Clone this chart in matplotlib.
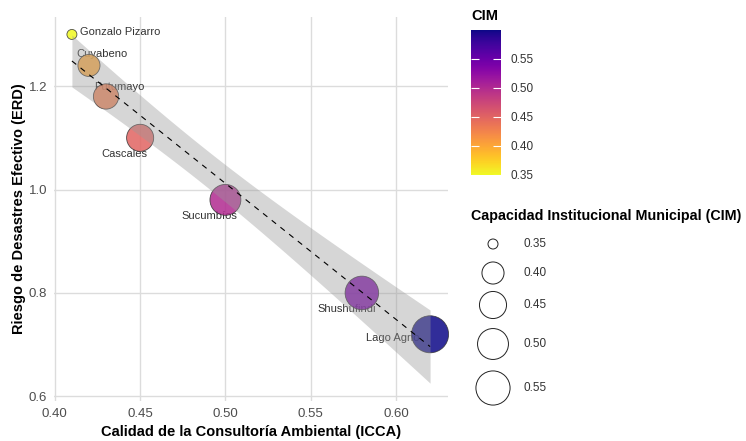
import numpy as np
import matplotlib
matplotlib.use("Agg")
import matplotlib.pyplot as plt
from matplotlib.colors import Normalize

plt.rcParams["font.family"] = ["Liberation Sans", "DejaVu Sans"]

# --- data ---
municipios = ["Gonzalo Pizarro", "Cuyabeno", "Putumayo", "Cascales",
              "Sucumbíos", "Shushufindi", "Lago Agrio"]
icca = [0.41, 0.42, 0.43, 0.45, 0.50, 0.58, 0.62]
erd = [1.30, 1.24, 1.18, 1.10, 0.98, 0.80, 0.72]
cim = [0.35, 0.40, 0.43, 0.45, 0.50, 0.54, 0.60]
cim_ticks = [0.35, 0.40, 0.45, 0.50, 0.55]

# label offsets in points (dx, dy, ha)
label_pos = [(6, 2, "left"), (9.5, 8, "center"), (9.5, 6.5, "center"),
             (-11, -12, "center"), (-11.5, -11.5, "center"),
             (-11, -11.5, "center"), (-27, -2.5, "center")]

x = np.array(icca)
y = np.array(erd)
c = np.array(cim)

# --- linear fit + 95% CI (like geom_smooth(method="lm")) ---
n = len(x)
slope, intercept = np.polyfit(x, y, 1)
xs = np.linspace(x.min(), x.max(), 100)
ys = intercept + slope * xs
resid = y - (intercept + slope * x)
s = np.sqrt(np.sum(resid ** 2) / (n - 2))
t975 = 2.5706  # t quantile, df = 5
se = s * np.sqrt(1 / n + (xs - x.mean()) ** 2 / np.sum((x - x.mean()) ** 2))
lo, hi = ys - t975 * se, ys + t975 * se

# --- size scale (area_pal style) ---
cmin, cmax = c.min(), c.max()
dmin, dmax = 10, 37  # px diameter


def size_of(v):
    d_px = dmin + (dmax - dmin) * np.sqrt((np.asarray(v) - cmin) / (cmax - cmin))
    return (d_px * 0.72) ** 2


cmap = plt.get_cmap("plasma_r")
norm = Normalize(cmin, cmax)

fig = plt.figure(figsize=(7.46, 4.41), dpi=100)
ax = fig.add_axes([54 / 746, 1 - 400.6 / 441, 394 / 746, 383.6 / 441])

grid_col = "#dcdcdc"
for side in ax.spines.values():
    side.set_visible(False)
ax.grid(True, color=grid_col, linewidth=1.0)
ax.set_axisbelow(True)

# labels first, then points, ribbon and line on top
for name, xi, yi, (dx, dy, ha) in zip(municipios, icca, erd, label_pos):
    ax.annotate(name, (xi, yi), xytext=(dx, dy), textcoords="offset points",
                ha=ha, va="center", fontsize=8, color="#333333", zorder=2)

ax.scatter(x, y, s=size_of(c), c=c, cmap=cmap, norm=norm, alpha=0.85,
           edgecolors="#333333", linewidths=0.6, zorder=3, clip_on=False)
ax.fill_between(xs, lo, hi, color="#999999", alpha=0.4, linewidth=0, zorder=4)
ax.plot(xs, ys, color="black", linewidth=0.8, linestyle=(0, (5, 5)), zorder=5)

xr = x.max() - x.min()
ax.set_xlim(x.min() - 0.05 * xr, x.max() + 0.05 * xr)
ymin, ymax = min(lo.min(), y.min()), max(hi.max(), y.max())
yr = ymax - ymin
ax.set_ylim(ymin - 0.05 * yr, ymax + 0.05 * yr)
ax.set_xticks([0.40, 0.45, 0.50, 0.55, 0.60])
ax.set_yticks([0.6, 0.8, 1.0, 1.2])
ax.xaxis.set_major_formatter(plt.FuncFormatter(lambda v, p: f"{v:.2f}"))
ax.yaxis.set_major_formatter(plt.FuncFormatter(lambda v, p: f"{v:.1f}"))
ax.tick_params(length=0, labelsize=9.5, labelcolor="#4d4d4d", pad=5)
ax.set_xlabel("Calidad de la Consultoría Ambiental (ICCA)", fontsize=10.5,
              fontweight="bold", labelpad=4)
ax.set_ylabel("Riesgo de Desastres Efectivo (ERD)", fontsize=10.5,
              fontweight="bold", labelpad=2)

# --- colour bar ---
cax = fig.add_axes([471 / 746, 1 - 175 / 441, 29.7 / 746, 145 / 441])
sm = plt.cm.ScalarMappable(norm=norm, cmap=cmap)
cb = fig.colorbar(sm, cax=cax, ticks=cim_ticks)
cb.outline.set_visible(False)
cb.ax.yaxis.set_major_formatter(plt.FuncFormatter(lambda v, p: f"{v:.2f}"))
cax.tick_params(direction="in", color="white", length=5.5, width=0.8,
                left=True, right=True, labelsize=8.5, labelcolor="#333333",
                pad=7)
fig.text(471 / 746, 1 - 16 / 441, "CIM", fontsize=10.5, fontweight="bold",
         ha="left", va="center")

# --- size legend ---
fig.text(471 / 746, 1 - 216 / 441, "Capacidad Institucional Municipal (CIM)",
         fontsize=10.3, fontweight="bold", ha="left", va="center")
lax = fig.add_axes([460 / 746, 0, 286 / 746, 1])
lax.set_xlim(460, 746)
lax.set_ylim(441, 0)
lax.axis("off")
key_y = [244, 273, 305, 344, 388]
lax.scatter([493] * len(cim_ticks), key_y, s=size_of(cim_ticks),
            facecolors="none", edgecolors="#222222", linewidths=0.7)
for v, yk in zip(cim_ticks, key_y):
    lax.text(523, yk, f"{v:.2f}", fontsize=8.5, color="#333333",
             ha="left", va="center")

fig.savefig("out.png", dpi=100)
plt.close(fig)
